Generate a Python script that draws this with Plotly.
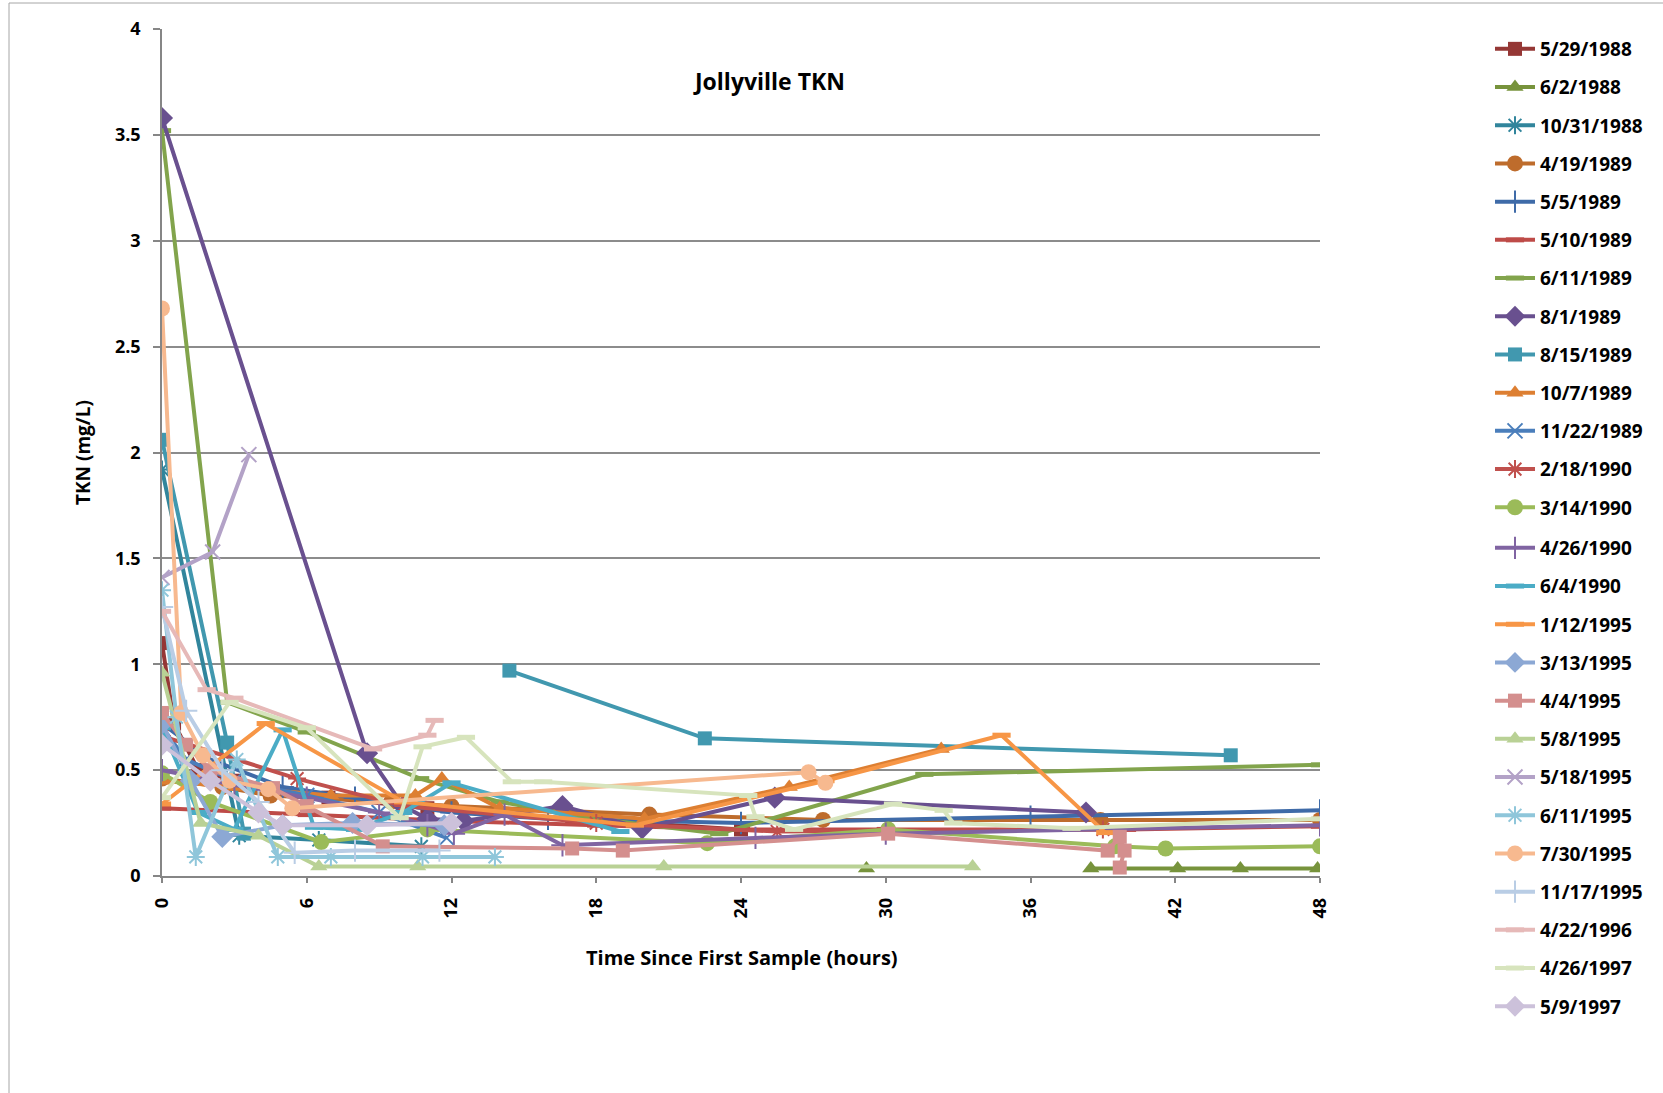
import plotly.graph_objects as go

# ---------------- data (hours since first sample, TKN mg/L) ----------------
SERIES_NAMES = ["5/29/1988", "6/2/1988", "10/31/1988", "4/19/1989", "5/5/1989", "5/10/1989",
                "6/11/1989", "8/1/1989", "8/15/1989", "10/7/1989", "11/22/1989", "2/18/1990",
                "3/14/1990", "4/26/1990", "6/4/1990", "1/12/1995", "3/13/1995", "4/4/1995",
                "5/8/1995", "5/18/1995", "6/11/1995", "7/30/1995", "11/17/1995", "4/22/1996",
                "4/26/1997", "5/9/1997"]

t_01 = [0, 0.5, 1.5, 3, 6.9, 11, 17, 24]
v_01 = [1.10, 0.72, 0.50, 0.45, 0.37, 0.32, 0.27, 0.22]
t_02 = [29.2, None, 38.5, 42.1, 44.7, 47.9]
v_02 = [0.035, None, 0.035, 0.035, 0.035, 0.035]
t_03 = [0, 3.2, 6.5, 10.75]
v_03 = [1.92, 0.19, 0.17, 0.14]
t_04 = [0, 2.5, 4.5, 9.5, 12, 20.2, 27.4, 38.9, 48]
v_04 = [0.46, 0.42, 0.38, 0.35, 0.33, 0.29, 0.265, 0.265, 0.265]
t_05 = [0, 2, 5, 8, 12, 16, 24, 36, 48]
v_05 = [0.72, 0.55, 0.42, 0.37, 0.30, 0.27, 0.25, 0.28, 0.31]
t_06 = [0, 6, 12, 18, 24, 30, 40, 48]
v_06 = [0.32, 0.29, 0.26, 0.24, 0.22, 0.22, 0.22, 0.235]
t_07 = [0, 2.7, 6, 10.7, 14, 18, 23.1, 31.6, 48]
v_07 = [3.52, 0.82, 0.68, 0.46, 0.35, 0.27, 0.20, 0.48, 0.525]
t_08 = [0, 8.5, 10, 11, 12.5, 16.6, 19.9, 25.4, 38.3]
v_08 = [3.58, 0.58, 0.33, 0.27, 0.26, 0.33, 0.225, 0.37, 0.30]
t_09 = [0, 2.7, 3.4, None, 14.4, 22.5, 44.3]
v_09 = [2.06, 0.63, 0.20, None, 0.97, 0.65, 0.57]
t_10 = [0, 3, 7, 10.5, 11.6, 14, 20, 26, 32.3]
v_10 = [0.45, 0.42, 0.38, 0.38, 0.46, 0.32, 0.27, 0.42, 0.60]
t_11 = [0, 1, 3, 6, 9, 11.8]
v_11 = [0.70, 0.55, 0.45, 0.38, 0.30, 0.18]
t_12 = [0, 5.6, 10, 18, 25.5, 39]
v_12 = [0.66, 0.46, 0.33, 0.25, 0.21, 0.22]
t_13 = [0, 2, 6.6, 11, 22.6, 30.1, 39.5, 41.6, 48]
v_13 = [0.485, 0.35, 0.16, 0.22, 0.155, 0.22, 0.14, 0.13, 0.14]
t_14 = [0, 3, 6, 9, 11, 12.1, 14.2, 16.6, 24.6, 30, 48]
v_14 = [0.50, 0.43, 0.37, 0.30, 0.24, 0.20, 0.29, 0.145, 0.18, 0.20, 0.24]
t_15 = [0, 1.5, 3, 5, 6.3, 8, 10, 12, 19]
v_15 = [0.70, 0.30, 0.22, 0.69, 0.23, 0.22, 0.30, 0.44, 0.21]
t_16 = [0, 4.3, 10, 19.6, 27.5, 34.8, 39.1]
v_16 = [0.34, 0.72, 0.35, 0.24, 0.45, 0.665, 0.205]
t_17 = [0, 1.2, 2.5, 5, 7.9, 11.7]
v_17 = [0.72, 0.45, 0.185, 0.24, 0.25, 0.24]
t_18 = [0, 1, 2, 4.6, 6, 9.15, 17, 19.1, 30.1, 39.2, 39.7, 39.9, 39.7]
v_18 = [0.77, 0.62, 0.50, 0.415, 0.33, 0.14, 0.13, 0.12, 0.20, 0.12, 0.185, 0.12, 0.04]
t_19 = [0, 1.6, 4, 6.5, 10.6, 20.8, 33.6]
v_19 = [0.96, 0.25, 0.19, 0.045, 0.045, 0.045, 0.045]
t_20 = [0, 2.1, 3.6]
v_20 = [1.41, 1.53, 1.99]
t_21 = [0, 0.6, 1.4, 3.1, 4.8, 7, 10.8, 13.8]
v_21 = [1.35, 0.75, 0.09, 0.55, 0.09, 0.09, 0.09, 0.09]
t_22 = [0, 0.8, 1.7, 2.8, 4.4, 5.4, 26.8, 27.5]
v_22 = [2.68, 0.77, 0.57, 0.45, 0.41, 0.32, 0.49, 0.44]
t_23 = [0, 1, 2.5, 4, 5.5, 8, 11.5]
v_23 = [1.27, 0.78, 0.50, 0.35, 0.11, 0.12, 0.12]
t_24 = [0, 1.85, 3, 8.75, 11, 11.3]
v_24 = [1.25, 0.88, 0.84, 0.60, 0.665, 0.735]
t_25 = [0, 2.8, 6, 9.85, 10.8, 12.6, 14.5, 15.8, 24.3, 24.6, 26.2, 30.3, 32.4, 32.8, 37.7, 48]
v_25 = [0.37, 0.82, 0.70, 0.275, 0.61, 0.655, 0.445, 0.445, 0.38, 0.28, 0.22, 0.34, 0.31, 0.25, 0.225, 0.27]
t_26 = [0, 2, 4, 5, 8.5, 12]
v_26 = [0.62, 0.45, 0.30, 0.24, 0.24, 0.25]

TIMES = [t_01, t_02, t_03, t_04, t_05, t_06, t_07, t_08, t_09, t_10, t_11, t_12, t_13,
         t_14, t_15, t_16, t_17, t_18, t_19, t_20, t_21, t_22, t_23, t_24, t_25, t_26]
VALUES = [v_01, v_02, v_03, v_04, v_05, v_06, v_07, v_08, v_09, v_10, v_11, v_12, v_13,
          v_14, v_15, v_16, v_17, v_18, v_19, v_20, v_21, v_22, v_23, v_24, v_25, v_26]

X_TICKS = [0, 6, 12, 18, 24, 30, 36, 42, 48]
Y_TICKS = [0, 0.5, 1, 1.5, 2, 2.5, 3, 3.5, 4]
Y_TICK_TEXT = ["0", "0.5", "1", "1.5", "2", "2.5", "3", "3.5", "4"]

# ---------------- styles ----------------
COLORS = ["#953735", "#77933C", "#31859C", "#BE6C2C", "#3F6BA8", "#BE4B48", "#82A44C",
          "#69508F", "#4198AF", "#DD7F32", "#4A7EBB", "#C0504D", "#9BBB59", "#8064A2",
          "#4BACC6", "#F79646", "#8CA8D4", "#D48F8E", "#B9D195", "#B3A2C7", "#8FC6DA",
          "#F7B98F", "#B9CDE5", "#E6B9B8", "#D7E4BD", "#CCC1DA"]
SYMBOLS = ["square", "triangle-up", "asterisk-open", "circle", "cross-thin-open", "line-ew-open",
           "line-ew-open", "diamond", "square", "triangle-up", "x-thin-open", "asterisk-open",
           "circle", "cross-thin-open", "line-ew-open", "line-ew-open", "diamond", "square",
           "triangle-up", "x-thin-open", "asterisk-open", "circle", "cross-thin-open",
           "line-ew-open", "line-ew-open", "diamond"]
SIZES = {"square": 14, "triangle-up": 15, "asterisk-open": 15, "circle": 16,
         "cross-thin-open": 16, "line-ew-open": 13, "diamond": 17, "x-thin-open": 15}

FONT = "Open Sans"
L, R, T, B = 162, 1320, 29, 876
W, H = 1663, 1093

fig = go.Figure()
for i, name in enumerate(SERIES_NAMES):
    sym = SYMBOLS[i]
    open_sym = sym.endswith("-open")
    lw = 5 if sym == "line-ew-open" else 2
    fig.add_trace(go.Scatter(
        x=TIMES[i], y=VALUES[i], name=name, mode="lines+markers",
        legend="legend" if i < 13 else "legend2",
        legendgroup=name, connectgaps=False,
        line=dict(color=COLORS[i], width=4),
        marker=dict(symbol=sym, size=SIZES[sym], color=COLORS[i],
                    line=dict(color=COLORS[i], width=lw if open_sym else 0)),
    ))

def px(x):
    return (x - L) / (R - L)

def py(y):
    return (B - y) / (B - T)

legend_common = dict(x=px(1490), xanchor="left", yanchor="top",
                     font=dict(family=FONT, size=19, weight="bold", color="black"),
                     traceorder="grouped", tracegroupgap=10.5, itemwidth=40,
                     bgcolor="rgba(0,0,0,0)")

fig.update_layout(
    width=W, height=H,
    margin=dict(l=L, r=W - R, t=T, b=H - B),
    paper_bgcolor="white", plot_bgcolor="white",
    font=dict(family=FONT, color="black"),
    showlegend=True,
    legend=dict(y=py(30), **legend_common),
    legend2=dict(y=py(529), **legend_common),
    xaxis=dict(range=[0, 48], tickvals=X_TICKS, ticktext=[str(v) for v in X_TICKS],
               tickangle=-90, showgrid=False, zeroline=False,
               showline=True, linecolor="#868686", linewidth=1.5,
               ticks="outside", ticklen=5, tickcolor="#868686", tickwidth=1.5,
               ticklabelstandoff=8,
               tickfont=dict(family=FONT, size=18, weight="bold", color="black")),
    yaxis=dict(range=[0, 4], tickvals=Y_TICKS, ticktext=Y_TICK_TEXT,
               showgrid=True, gridcolor="#8C8C8C", gridwidth=1.5, zeroline=False,
               showline=True, linecolor="#868686", linewidth=1.5,
               ticks="outside", ticklen=7, tickcolor="#868686", tickwidth=1.5,
               ticklabelstandoff=9,
               tickfont=dict(family=FONT, size=18, weight="bold", color="black")),
    annotations=[
        dict(text="Jollyville TKN", x=px(769), y=py(81), xref="paper", yref="paper",
             xanchor="center", yanchor="middle", showarrow=False,
             font=dict(family=FONT, size=23, weight="bold", color="black")),
        dict(text="Time Since First Sample (hours)", x=px(742), y=py(957), xref="paper",
             yref="paper", xanchor="center", yanchor="middle", showarrow=False,
             font=dict(family=FONT, size=20, weight="bold", color="black")),
        dict(text="TKN (mg/L)", x=px(83), y=py(453), xref="paper", yref="paper",
             xanchor="center", yanchor="middle", showarrow=False, textangle=-90,
             font=dict(family=FONT, size=19, weight="bold", color="black")),
    ],
    shapes=[
        dict(type="rect", xref="paper", yref="paper", x0=px(9), x1=px(1700), y0=py(1200),
             y1=py(3), line=dict(color="#A6A6A6", width=1), fillcolor="rgba(0,0,0,0)",
             layer="below"),
    ],
)

fig.write_html("out.html", config={"displayModeBar": False},
               post_script="document.body.style.margin='0';")
